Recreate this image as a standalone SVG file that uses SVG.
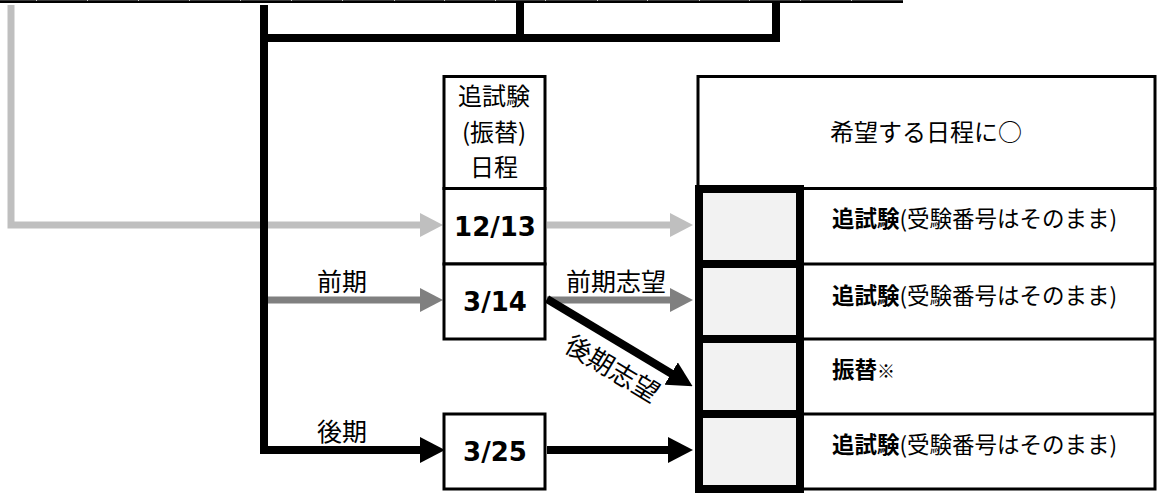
<svg xmlns="http://www.w3.org/2000/svg" width="1160" height="493" viewBox="0 0 1160 493">
<style>
.jp{font-family:"Noto Sans CJK JP","DejaVu Sans",sans-serif;fill:#000;}
.num{font-family:"DejaVu Sans","Noto Sans CJK JP",sans-serif;font-weight:bold;font-size:26px;fill:#000;text-anchor:middle;}
.row{font-size:22.5px;}
.box{fill:#fff;stroke:#000;stroke-width:3;}
.chk{fill:#f2f2f2;stroke:#000;stroke-width:8;}
.thin{fill:none;stroke:#000;stroke-width:3;}
.lg{fill:none;stroke:#bfbfbf;stroke-width:7;stroke-linejoin:miter;}
.mg{fill:none;stroke:#808080;stroke-width:7;}
.bk{fill:none;stroke:#000;stroke-width:8;stroke-linejoin:miter;stroke-linecap:butt;}
</style>
<defs>
<marker id="aLG" markerUnits="userSpaceOnUse" viewBox="0 0 23 24" refX="1" refY="12" markerWidth="23" markerHeight="24" orient="auto"><path d="M0,0 L23,12 L0,24 z" fill="#bfbfbf"/></marker>
<marker id="aMG" markerUnits="userSpaceOnUse" viewBox="0 0 23 24" refX="1" refY="12" markerWidth="23" markerHeight="24" orient="auto"><path d="M0,0 L23,12 L0,24 z" fill="#808080"/></marker>
<marker id="aBK" markerUnits="userSpaceOnUse" viewBox="0 0 25 26" refX="1" refY="13" markerWidth="25" markerHeight="26" orient="auto"><path d="M0,0 L25,13 L0,26 z" fill="#000"/></marker>
</defs>

<g id="top-table-edge">
<rect x="0" y="0" width="903" height="3" fill="#000"/>
<rect x="0" y="0" width="903" height="1" fill="#3a3a3a"/>
<g fill="#c8c8c8">
<rect x="36" y="0" width="1" height="1"/><rect x="87" y="0" width="1" height="1"/><rect x="138" y="0" width="1" height="1"/><rect x="189" y="0" width="1" height="1"/><rect x="240" y="0" width="1" height="1"/><rect x="291" y="0" width="1" height="1"/><rect x="342" y="0" width="1" height="1"/><rect x="394" y="0" width="1" height="1"/><rect x="444" y="0" width="1" height="1"/><rect x="495" y="0" width="1" height="1"/><rect x="545" y="0" width="1" height="1"/><rect x="597" y="0" width="1" height="1"/><rect x="647" y="0" width="1" height="1"/><rect x="699" y="0" width="1" height="1"/><rect x="749" y="0" width="1" height="1"/><rect x="800" y="0" width="1" height="1"/><rect x="851" y="0" width="1" height="1"/>
</g>
</g>

<g id="connectors">
<path class="lg" d="M11,5 V225 H421" marker-end="url(#aLG)"/>
<path class="bk" d="M264,5 V450 H421" marker-end="url(#aBK)"/>
<path class="bk" d="M260,38 H780"/>
<path class="bk" d="M520,3 V38"/>
<path class="bk" d="M776,3 V42"/>
<path class="mg" d="M268,300 H421" marker-end="url(#aMG)"/>
<path class="lg" d="M547,225 H671" marker-end="url(#aLG)"/>
<path class="mg" d="M547,300 H671" marker-end="url(#aMG)"/>
<path class="bk" d="M547,299 L672,374" marker-end="url(#aBK)"/>
<path class="bk" d="M547,450 H669" marker-end="url(#aBK)"/>
<text class="jp" x="342" y="291" font-size="25" text-anchor="middle">前期</text>
<text class="jp" x="342" y="441" font-size="25" text-anchor="middle">後期</text>
<text class="jp" x="616" y="291" font-size="25" text-anchor="middle">前期志望</text>
<text class="jp" font-size="26" text-anchor="middle" transform="translate(612,369) rotate(31)" y="9">後期志望</text>
</g>

<g id="schedule-header">
<rect class="box" x="444" y="76.5" width="101" height="112"/>
<text class="jp" x="494" y="105" font-size="24" text-anchor="middle">追試験</text>
<text class="jp" x="494" y="141" font-size="24" text-anchor="middle">(振替)</text>
<text class="jp" x="494" y="176" font-size="24" text-anchor="middle">日程</text>
</g>
<g id="date-1213">
<rect class="box" x="444" y="188.5" width="101" height="75.5"/>
<text class="num" x="495" y="236">12/13</text>
</g>
<g id="date-314">
<rect class="box" x="444" y="264" width="101" height="75"/>
<text class="num" x="495" y="311">3/14</text>
</g>
<g id="date-325">
<rect class="box" x="444" y="414" width="101" height="75"/>
<text class="num" x="495" y="461">3/25</text>
</g>

<g id="choice-header">
<rect class="box" x="698" y="76.5" width="457" height="112"/>
<text class="jp" x="926" y="141" font-size="24" text-anchor="middle">希望する日程に○</text>
</g>
<g id="choice-rows">
<rect class="box" x="800" y="188.5" width="355" height="300.5"/>
<path class="thin" d="M800,264 H1155 M800,339 H1155 M800,414 H1155"/>
</g>
<g id="row-1">
<rect class="chk" x="699" y="189" width="101" height="75"/>
<text class="jp row" x="832" y="227"><tspan font-weight="bold">追試験</tspan>(受験番号はそのまま)</text>
</g>
<g id="row-2">
<rect class="chk" x="699" y="264" width="101" height="75"/>
<text class="jp row" x="832" y="304"><tspan font-weight="bold">追試験</tspan>(受験番号はそのまま)</text>
</g>
<g id="row-3">
<rect class="chk" x="699" y="339" width="101" height="75"/>
<text class="jp row" x="832" y="378"><tspan font-weight="bold">振替</tspan><tspan font-size="18">※</tspan></text>
</g>
<g id="row-4">
<rect class="chk" x="699" y="414" width="101" height="75"/>
<text class="jp row" x="832" y="453"><tspan font-weight="bold">追試験</tspan>(受験番号はそのまま)</text>
</g>
</svg>
